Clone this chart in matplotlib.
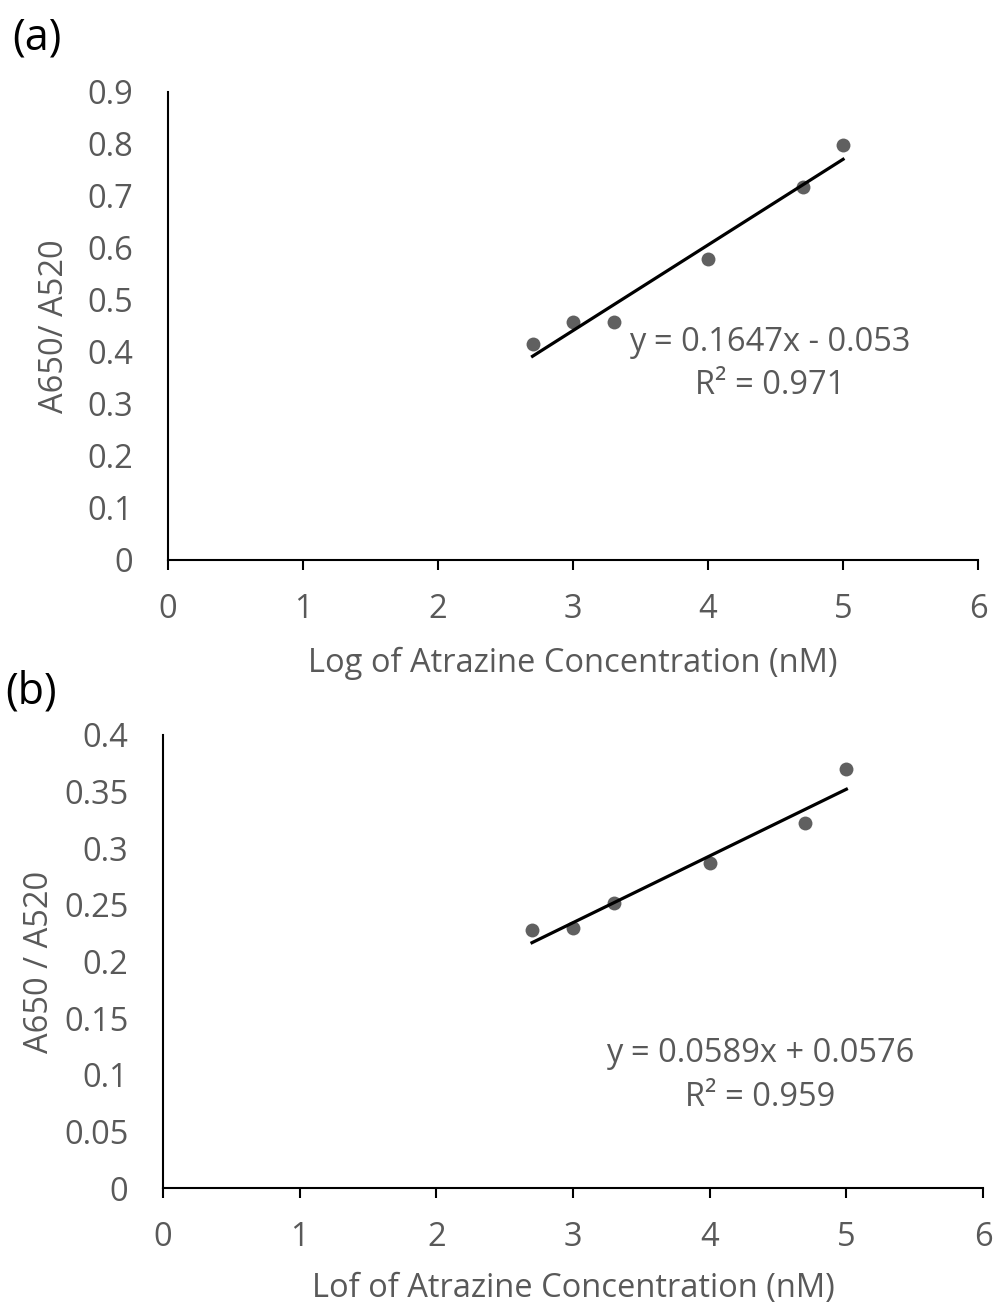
import numpy as np
import matplotlib
matplotlib.use("Agg")
import matplotlib.pyplot as plt

plt.rcParams['font.family'] = ['Open Sans', 'DejaVu Sans']

# data
log_conc = [2.7, 3.0, 3.3, 4.0, 4.7, 5.0]
ratio_a = [0.415, 0.458, 0.458, 0.579, 0.717, 0.798]
ratio_b = [0.228, 0.230, 0.252, 0.287, 0.322, 0.370]

# trendline coefficients shown on the chart
fit_a = (0.1647, -0.053)
fit_b = (0.0589, 0.0576)
eq_a = ["y = 0.1647x - 0.053", "R² = 0.971"]
eq_b = ["y = 0.0589x + 0.0576", "R² = 0.959"]

xticks = [0, 1, 2, 3, 4, 5, 6]
yticks_a = [0, 0.1, 0.2, 0.3, 0.4, 0.5, 0.6, 0.7, 0.8, 0.9]
yticks_b = [0, 0.05, 0.1, 0.15, 0.2, 0.25, 0.3, 0.35, 0.4]
ytick_labels_b = ["0", "0.05", "0.1", "0.15", "0.2", "0.25", "0.3", "0.35", "0.4"]

GREY = "#595959"
FS = 23.5

fig = plt.figure(figsize=(9.95, 13.08), dpi=100)
ax_a = fig.add_axes([0.1688, 0.5719, 0.8142, 0.3578])
ax_b = fig.add_axes([0.1638, 0.0917, 0.8242, 0.3464])


def style(ax, yticks, ylabels, ylabel, xlabel, ylab_x, xlab_y):
    ax.set_xlim(0, 6)
    ax.set_ylim(yticks[0], yticks[-1])
    ax.set_xticks(xticks)
    ax.set_xticklabels([str(t) for t in xticks])
    ax.set_yticks(yticks)
    ax.set_yticklabels(ylabels)
    for s in ["top", "right"]:
        ax.spines[s].set_visible(False)
    for s in ["left", "bottom"]:
        ax.spines[s].set_linewidth(1.5)
        ax.spines[s].set_color("black")
    ax.tick_params(axis="x", direction="out", length=7, width=1.5,
                   color="black", labelsize=FS, labelcolor=GREY, pad=17)
    ax.tick_params(axis="y", length=0, labelsize=FS, labelcolor=GREY, pad=25)
    ax.set_xlabel(xlabel, fontsize=FS, color=GREY, va="center")
    ax.set_ylabel(ylabel, fontsize=FS, color=GREY, va="center")
    ax.xaxis.set_label_coords(0.5, xlab_y)
    ax.yaxis.set_label_coords(ylab_x, 0.5)


def draw(ax, y, fit, eq, eq_x, eq_y):
    xs = np.array([min(log_conc), max(log_conc)])
    ax.plot(xs, fit[0] * xs + fit[1], color="black", lw=2.3, zorder=3)
    ax.plot(log_conc, y, "o", color="#606060", ms=10, mec="none", zorder=2)
    ax.text(eq_x, eq_y[0], eq[0], fontsize=FS, color=GREY, ha="center", va="center")
    ax.text(eq_x, eq_y[1], eq[1], fontsize=FS, color=GREY, ha="center", va="center")


style(ax_a, yticks_a, [f"{t:g}" for t in yticks_a], "A650/ A520",
      "Log of Atrazine Concentration (nM)", -0.1395, -0.220)
draw(ax_a, ratio_a, fit_a, eq_a, 4.46, (0.419, 0.335))

style(ax_b, yticks_b, ytick_labels_b, "A650 / A520",
      "Lof of Atrazine Concentration (nM)", -0.150, -0.221)
draw(ax_b, ratio_b, fit_b, eq_b, 4.37, (0.119, 0.080))

fig.text(0.012, 0.971, "(a)", fontsize=31, color="black", ha="left", va="center")
fig.text(0.005, 0.471, "(b)", fontsize=31, color="black", ha="left", va="center")

fig.savefig("out.png", dpi=100)
